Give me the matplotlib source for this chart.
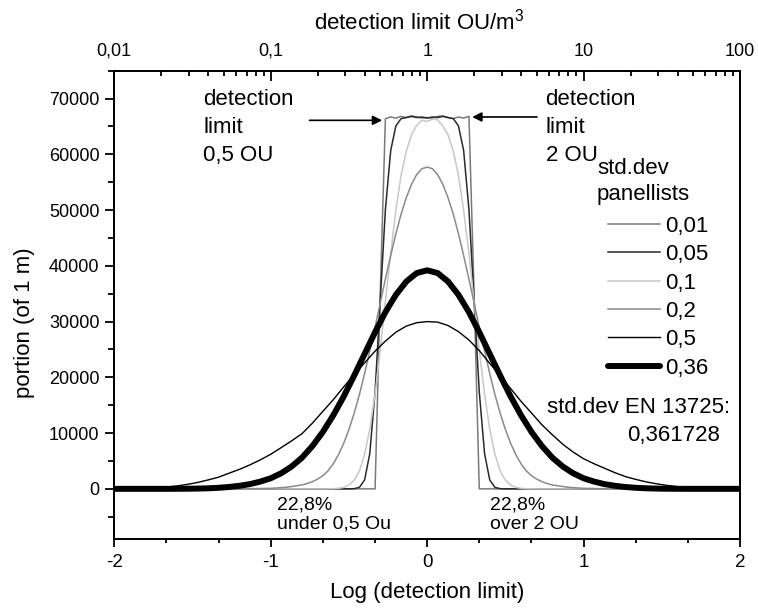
# detection limit distribution - std.dev of panellists

import numpy as np
import matplotlib
matplotlib.use('Agg')
import matplotlib.pyplot as plt
from matplotlib import font_manager

# x grid for the broad curves (log detection limit)
x_wide = [-2.0, -1.933, -1.867, -1.8, -1.733, -1.667, -1.6, -1.533, -1.467, -1.4,
          -1.333, -1.267, -1.2, -1.133, -1.067, -1.0, -0.933, -0.867, -0.8, -0.733,
          -0.667, -0.6, -0.533, -0.467, -0.4, -0.333, -0.267, -0.2, -0.133, -0.067,
          0.0,
          0.067, 0.133, 0.2, 0.267, 0.333, 0.4, 0.467, 0.533, 0.6, 0.667,
          0.733, 0.8, 0.867, 0.933, 1.0, 1.067, 1.133, 1.2, 1.267, 1.333,
          1.4, 1.467, 1.533, 1.6, 1.667, 1.733, 1.8, 1.867, 1.933, 2.0]

# x grid for the narrow curves
x_narrow = [-2.0, -1.2, -1.0, -0.9,
            -0.8, -0.767, -0.733, -0.7, -0.667, -0.633, -0.6, -0.567, -0.533, -0.5,
            -0.467, -0.433, -0.4, -0.367, -0.333, -0.3, -0.267, -0.233, -0.2, -0.167,
            -0.133, -0.1, -0.067, -0.033,
            0.0,
            0.033, 0.067, 0.1, 0.133, 0.167, 0.2, 0.233, 0.267, 0.3, 0.333,
            0.367, 0.4, 0.433, 0.467, 0.5, 0.533, 0.567, 0.6, 0.633, 0.667,
            0.7, 0.733, 0.767, 0.8,
            0.9, 1.0, 1.2, 2.0]

sd_001 = [0, 0, 0, 0,
          0, 0, 0, 0, 0, 0, 0, 0, 0, 0,
          0, 0, 0, 0, 0, 35000, 66400, 66700, 66500, 66800,
          66600, 66900, 66700, 66500,
          66600,
          66500, 66800, 66900, 66600, 66400, 66700, 66500, 66800, 35000, 0,
          0, 0, 0, 0, 0, 0, 0, 0, 0, 0,
          0, 0, 0, 0,
          0, 0, 0, 0]

sd_005 = [0, 0, 0, 0,
          0, 0, 0, 0, 0, 0, 0, 0, 0, 0,
          30, 270, 1600, 6300, 17400, 33800, 50100, 60700, 65100, 66400,
          66600, 66800, 66600, 66700,
          66500,
          66700, 66600, 66800, 66600, 66400, 65100, 60700, 50100, 33800, 17400,
          6300, 1600, 270, 30, 0, 0, 0, 0, 0, 0,
          0, 0, 0, 0,
          0, 0, 0, 0]

sd_01 = [0, 0, 0, 0,
         0, 0, 0, 0, 0, 0, 30, 90, 260, 680,
         1550, 3200, 6200, 10700, 17000, 24900, 33600, 42200, 50000, 56200,
         60600, 63500, 65200, 66100,
         65900,
         66300, 66200, 65100, 63500, 60600, 56200, 50000, 42200, 33600, 24900,
         17000, 10700, 6200, 3200, 1550, 680, 260, 90, 30, 0,
         0, 0, 0, 0,
         0, 0, 0, 0]

sd_02 = [0, 0, 90, 280,
         700, 950, 1300, 1750, 2350, 3250, 4500, 6130, 8190, 10650,
         13540, 16920, 20670, 24740, 29010, 33350, 37640, 41860, 45760, 49250,
         52250, 54620, 56370, 57440,
         57700,
         57440, 56370, 54620, 52250, 49250, 45760, 41860, 37640, 33350, 29010,
         24740, 20670, 16920, 13540, 10650, 8190, 6130, 4500, 3250, 2350,
         1750, 1300, 950, 700,
         280, 90, 0, 0]

sd_05 = [10, 25, 50, 100, 180, 320, 520, 800, 1150, 1600,
         2100, 2800, 3500, 4300, 5200, 6200, 7400, 8600, 9900, 11800,
         13900, 16000, 18300, 20500, 22600, 24700, 26500, 28100, 29200, 29800,
         30000,
         29900, 29300, 28200, 26700, 24800, 22500, 20300, 18000, 15700, 13600,
         11500, 9700, 8000, 6600, 5400, 4500, 3700, 2900, 2200, 1700,
         1250, 900, 620, 400, 250, 140, 80, 40, 20, 10]

sd_036 = [0, 0, 0, 0, 0, 0, 10, 25, 50, 100,
          190, 330, 550, 850, 1300, 1900, 2800, 4000, 5600, 7700,
          10200, 13200, 16600, 20300, 24200, 28100, 31700, 34800, 37200, 38700,
          39200,
          38700, 37200, 34800, 31700, 28100, 24200, 20300, 16600, 13200, 10200,
          7700, 5600, 4000, 2800, 1900, 1300, 850, 550, 330, 190,
          100, 50, 25, 10, 0, 0, 0, 0, 0, 0]

labels = ['0,01', '0,05', '0,1', '0,2', '0,5', '0,36']
top_ticks = ['0,01', '0,1', '1', '10', '100']


plt.rcParams['font.family'] = ['Liberation Sans', 'DejaVu Sans']
plt.rcParams['mathtext.default'] = 'regular'
plt.rcParams['axes.unicode_minus'] = False

names = set(f.name for f in font_manager.fontManager.ttflist)
narrow = 'Liberation Sans Narrow' if 'Liberation Sans Narrow' in names else 'Liberation Sans'

fig = plt.figure(figsize=(7.58, 6.09), dpi=100)
ax = fig.add_axes([0.1508, 0.1149, 0.8255, 0.769])

ax.plot(x_narrow, sd_001, color='#7a7a7a', lw=1.1, label=labels[0])
ax.plot(x_narrow, sd_005, color='#2a2a2a', lw=1.1, label=labels[1])
ax.plot(x_narrow, sd_01, color='#c8c8c8', lw=1.1, label=labels[2])
ax.plot(x_narrow, sd_02, color='#8a8a8a', lw=1.1, label=labels[3])
ax.plot(x_wide, sd_05, color='black', lw=1.0, label=labels[4])
ax.plot(x_wide, sd_036, color='black', lw=4.3, label=labels[5], solid_capstyle='round')

ax.set_xlim(-2, 2)
ax.set_ylim(-9000, 75000)

for s in ax.spines.values():
    s.set_linewidth(1.3)

ax.set_xticks([-2, -1, 0, 1, 2])
ax.set_xticks(np.arange(-2, 2.01, 1 / 3), minor=True)
ax.set_yticks(np.arange(0, 70001, 10000))
ax.set_yticks(np.arange(-5000, 75001, 10000), minor=True)
ax.tick_params(axis='x', which='major', direction='out', length=6, width=1.3,
               labelsize=13.5, pad=5, top=False)
ax.tick_params(axis='x', which='minor', direction='out', length=2.8, width=1.3, top=False)
ax.tick_params(axis='y', which='major', direction='out', length=6.7, width=1.3,
               labelsize=13, pad=4, right=False)
ax.tick_params(axis='y', which='minor', direction='out', length=4.3, width=1.3, right=False)
for t in ax.get_xticklabels():
    t.set_family(narrow)

ax.set_xlabel('Log (detection limit)', fontsize=16)
ax.xaxis.set_label_coords(0.5, -0.092)
ax.set_ylabel('portion (of 1 m)', fontsize=16)
ax.yaxis.set_label_coords(-0.127, 0.461)

# top axis in OU/m3
ax2 = ax.twiny()
ax2.set_xlim(-2, 2)
ax2.set_xticks([-2, -1, 0, 1, 2])
ax2.set_xticklabels(top_ticks)
minor_top = [np.log10(k * 10.0 ** e) for e in range(-2, 2) for k in range(2, 10)]
ax2.set_xticks(minor_top, minor=True)
ax2.tick_params(axis='x', which='major', direction='in', length=7, width=1.3,
                labelsize=13, pad=8)
ax2.tick_params(axis='x', which='minor', direction='in', length=3.6, width=1.3)
ax2.set_xlabel('detection limit OU/m$^3$', fontsize=16)
ax2.xaxis.set_label_coords(0.488, 1.089)
for s in ax2.spines.values():
    s.set_linewidth(1.3)

# detection limit arrows
ax.annotate('', xy=(-0.27, 66100), xytext=(-0.77, 66100),
            arrowprops=dict(arrowstyle='-|>', color='black', lw=1.2, mutation_scale=14))
ax.annotate('', xy=(0.27, 66700), xytext=(0.72, 66700),
            arrowprops=dict(arrowstyle='-|>', color='black', lw=1.2, mutation_scale=14))
ax.text(-1.433, 64800, 'detection\nlimit\n0,5 OU', fontsize=16, ha='left', va='center',
        linespacing=1.42)
ax.text(0.757, 64800, 'detection\nlimit\n2 OU', fontsize=16, ha='left', va='center',
        linespacing=1.42)

ax.text(1.085, 55100, 'std.dev\npanellists', fontsize=16, ha='left', va='center',
        linespacing=1.3)
ax.legend(loc='upper left', bbox_to_anchor=(0.7886, 0.69), frameon=False, fontsize=16,
          handlelength=2.34, handletextpad=0.25, labelspacing=0.33, borderpad=0,
          borderaxespad=0)

ax.text(0.766, 14670, 'std.dev EN 13725:', fontsize=16, ha='left', va='center')
ax.text(1.276, 9580, '0,361728', fontsize=16, ha='left', va='center')

ax.text(-0.962, -4600, '22,8%\nunder 0,5 Ou', fontsize=14, family=narrow,
        ha='left', va='center', linespacing=1.2)
ax.text(0.399, -4600, '22,8%\nover 2 OU', fontsize=14, family=narrow,
        ha='left', va='center', linespacing=1.2)

fig.savefig('out.png', dpi=100)
